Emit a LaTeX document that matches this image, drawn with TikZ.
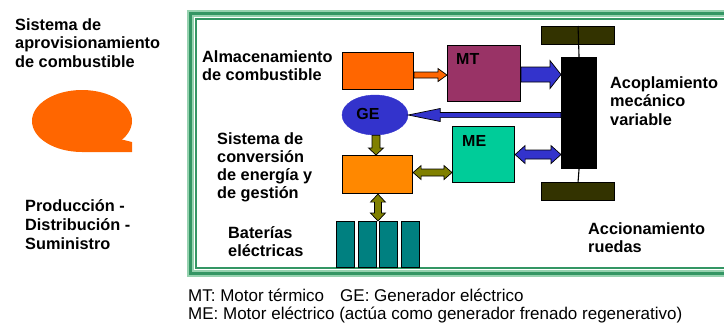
\documentclass[tikz,border=0pt]{standalone}
\usepackage{fontspec}
\setmainfont{Liberation Sans}
\usetikzlibrary{calc,positioning,shapes.geometric}
\definecolor{fuelc}{RGB}{255,102,0}
\definecolor{convc}{RGB}{255,136,0}
\definecolor{mtc}{RGB}{153,51,102}
\definecolor{bluec}{RGB}{51,51,204}
\definecolor{mec}{RGB}{0,204,153}
\definecolor{battc}{RGB}{0,128,128}
\definecolor{wheelc}{RGB}{51,51,0}
\definecolor{olivec}{RGB}{128,128,0}
\definecolor{frameD}{RGB}{52,150,100}
\definecolor{frameL}{RGB}{150,210,175}

% block arrow: from, to, fill, half shaft, half head, head length
\newcommand{\blockarrow}[6]{%
  \path[draw=black,line width=0.7pt,fill=#3]
    let \p1=(#1), \p2=(#2), \n1={atan2(\y2-\y1,\x2-\x1)}, \n2={veclen(\x2-\x1,\y2-\y1)-#6} in
    ($(\p1)+(\n1+90:#4pt)$) -- ($(\p1)+(\n1:\n2)+(\n1+90:#4pt)$) -- ($(\p1)+(\n1:\n2)+(\n1+90:#5pt)$)
    -- (\p2) -- ($(\p1)+(\n1:\n2)+(\n1-90:#5pt)$) -- ($(\p1)+(\n1:\n2)+(\n1-90:#4pt)$)
    -- ($(\p1)+(\n1-90:#4pt)$) -- cycle;}
% same, heads on both ends
\newcommand{\blockboth}[6]{%
  \path[draw=black,line width=0.7pt,fill=#3]
    let \p1=(#1), \p2=(#2), \n1={atan2(\y2-\y1,\x2-\x1)}, \n2={veclen(\x2-\x1,\y2-\y1)-#6} in
    (\p1) -- ($(\p1)+(\n1:#6pt)+(\n1+90:#5pt)$) -- ($(\p1)+(\n1:#6pt)+(\n1+90:#4pt)$)
    -- ($(\p1)+(\n1:\n2)+(\n1+90:#4pt)$) -- ($(\p1)+(\n1:\n2)+(\n1+90:#5pt)$)
    -- (\p2) -- ($(\p1)+(\n1:\n2)+(\n1-90:#5pt)$) -- ($(\p1)+(\n1:\n2)+(\n1-90:#4pt)$)
    -- ($(\p1)+(\n1:#6pt)+(\n1-90:#4pt)$) -- ($(\p1)+(\n1:#6pt)+(\n1-90:#5pt)$) -- cycle;}

\begin{document}
\begin{tikzpicture}[x=1pt,y=-1pt,
  lbl/.style={anchor=north west,inner sep=0pt,align=left,font=\bfseries\fontsize{16.3}{18.5}\selectfont},
  box/.style={draw=black,line width=1.1pt,inner sep=0pt,anchor=north west},
  tag/.style={anchor=north west,inner sep=0pt,font=\bfseries\fontsize{16}{18}\selectfont},
  cell/.style={box,fill=battc,minimum width=18pt,minimum height=46pt},
  wheel/.style={box,fill=wheelc,minimum width=73pt,minimum height=18pt}]
  \useasboundingbox (0,0) rectangle (724,322);
  % outer frame, runs off the right edge
  \draw[frameL,line width=2pt] (188,11) rectangle (760,276);
  \draw[frameD,line width=3.5pt] (190.5,13.5) rectangle (760,273.5);
  \draw[frameL,line width=1.2pt] (193,16) rectangle (760,271);
  \draw[frameD,line width=2pt] (196,19) rectangle (760,268);

  % supply side
  \node[lbl] (supply) at (15,18) {Sistema de\\aprovisionamiento\\de combustible};
  \node[ellipse,fill=fuelc,minimum width=100pt,minimum height=62pt,inner sep=0pt] (tank) at (82,121) {};
  \fill[fuelc] ($(tank.center)+(0,31)$) -- ($(tank.center)+(50,31)$) -- ($(tank.center)+(50,21)$)
    -- ($(tank.center)+(38,18)$) -- ($(tank.center)+(18,27)$) -- cycle;
  \node[lbl,font=\bfseries\fontsize{16.3}{19}\selectfont] (prod) at (25,199) {Producción -\\Distribución -\\Suministro};

  % vehicle
  \node[box,fill=fuelc,minimum width=71pt,minimum height=37pt] (fuel) at (342,52) {};
  \node[box,fill=mtc,minimum width=73pt,minimum height=56pt] (mt) at (447,45) {};
  \node[tag] at ($(mt.north west)+(9,8)$) {MT};
  \node[ellipse,draw=bluec,fill=bluec,minimum width=66pt,minimum height=40pt,inner sep=0pt] (ge) at (375,115) {};
  \node[inner sep=0pt,font=\bfseries\fontsize{16}{18}\selectfont] at ($(ge.center)+(-7,-1)$) {GE};
  \node[box,fill=convc,minimum width=70pt,minimum height=38pt] (conv) at (342,155) {};
  \node[box,fill=mec,minimum width=62pt,minimum height=56pt] (me) at (452,126) {};
  \node[tag] at ($(me.north west)+(10,9)$) {ME};
  \node[box,fill=black,minimum width=35pt,minimum height=111pt] (coup) at (561,57) {};
  \node[wheel] (wtop) at (541,26) {};
  \node[wheel] (wbot) at (541,182) {};
  \draw[line width=1.1pt] (wtop.north) -- (coup.north);
  \draw[line width=1.1pt] (coup.south) -- (wbot.north);
  \node[cell] (b1) at (336,221) {};
  \foreach \i [count=\j from 1] in {2,3,4}
    \node[cell,right=2.5pt of b\j.north east,anchor=north west] (b\i) {};

  % flows
  \coordinate (fuelout) at ($(fuel.east)+(0,4)$);
  \blockarrow{fuelout}{fuelout -| mt.west}{fuelc}{3}{6.5}{9}
  \coordinate (mtout) at ($(mt.east)+(0,1)$);
  \blockarrow{mtout}{mtout -| coup.west}{bluec}{7.5}{14}{11}
  \blockarrow{ge.east -| coup.west}{ge.east}{bluec}{2.6}{6.5}{32}
  \coordinate (gedown) at ($(ge.south)+(1,0)$);
  \blockarrow{gedown}{gedown |- conv.north}{olivec}{4}{7.5}{7}
  \coordinate (convout) at ($(conv.east)+(0,-2)$);
  \blockboth{convout}{convout -| me.west}{olivec}{3.5}{7}{8}
  \coordinate (meout) at ($(me.east)+(0,0)$);
  \blockboth{meout}{meout -| coup.west}{bluec}{4.5}{9}{10}
  \coordinate (battin) at ($(b2.north east)!0.5!(b3.north west)$);
  \blockboth{battin |- conv.south}{battin}{olivec}{3.5}{7.5}{8}

  % labels
  \node[lbl] (lfuel) at (202,50) {Almacenamiento\\de combustible};
  \node[lbl,font=\bfseries\fontsize{16.3}{18}\selectfont] (lconv) at (217,132) {Sistema de\\conversión\\de energía y\\de gestión};
  \node[lbl] (lbatt) at (228,226) {Baterías\\eléctricas};
  \node[lbl] (lcoup) at (610,76) {Acoplamiento\\mecánico\\variable};
  \node[lbl] (lwheel) at (588,222) {Accionamiento\\ruedas};

  % legend
  \node[anchor=north west,inner sep=0pt,align=left,font=\fontsize{17}{17.5}\selectfont] (legend) at (188,289)
    {MT: Motor térmico\hspace{16pt}GE: Generador eléctrico\\ME: Motor eléctrico (actúa como generador frenado regenerativo)};
\end{tikzpicture}
\end{document}
